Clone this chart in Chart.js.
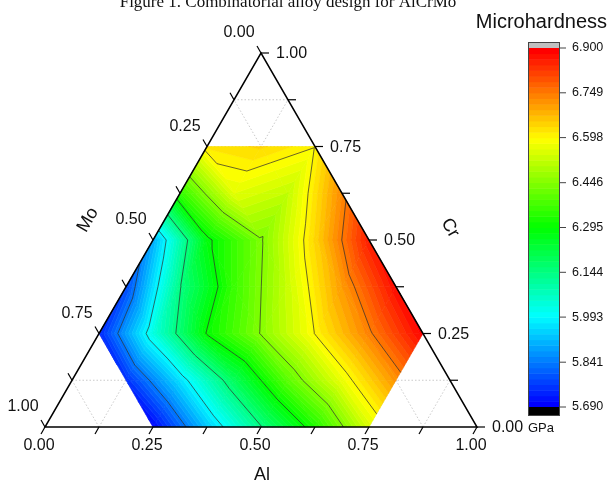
<!DOCTYPE html>
<html>
<head>
<meta charset="utf-8">
<script src="https://cdn.jsdelivr.net/npm/chart.js@4.4.1/dist/chart.umd.min.js"></script>
<style>
  html, body { margin: 0; padding: 0; background: #fff; }
</style>
</head>
<body>
<canvas id="chart" width="608" height="483"></canvas>
<script>
// sampled compositions (mole fraction)
const alFrac = [0, 0.125, 0.25, 0.375, 0.5, 0.625, 0.75]
const crFrac = [0, 0.125, 0.25, 0.375, 0.5, 0.625, 0.75]

// microhardness (GPa), one row per Cr fraction, indexed by Al fraction; null = not sampled
const hvCr000 = [null, null, 5.70, 5.93, 6.14, 6.33, 6.55]
const hvCr125 = [null, 5.75, 5.96, 6.19, 6.40, 6.57, 6.72]
const hvCr250 = [5.74, 6.03, 6.30, 6.45, 6.60, 6.74, 6.89]
const hvCr375 = [5.78, 6.14, 6.36, 6.53, 6.71, 6.88, null]
const hvCr500 = [5.90, 6.28, 6.44, 6.64, 6.86, null, null]
const hvCr625 = [6.35, 6.56, 6.52, 6.73, null, null, null]
const hvCr750 = [6.62, 6.64, 6.60, null, null, null, null]

const axisTicks = [0, 0.25, 0.5, 0.75, 1]
const axisTickLabels = ["0.00", "0.25", "0.50", "0.75", "1.00"]
const colorTicks = [5.690, 5.841, 5.993, 6.144, 6.295, 6.446, 6.598, 6.749, 6.900]
const contourLevels = [5.841, 5.993, 6.144, 6.295, 6.446, 6.598, 6.749]

const hvRows = [hvCr000, hvCr125, hvCr250, hvCr375, hvCr500, hvCr625, hvCr750]
const SQ3 = Math.sqrt(3) / 2
const NB = 64
const vMin = 5.69, vMax = 6.9

const nodes = []
const nodeIndex = {}
hvRows.forEach((row, j) => {
  row.forEach((v, i) => {
    if (v === null) return
    nodeIndex[i + "_" + j] = nodes.length
    nodes.push({ x: alFrac[i] + crFrac[j] / 2, y: crFrac[j] * SQ3, al: alFrac[i], cr: crFrac[j], v: v })
  })
})

const triangles = []
for (let j = 0; j < crFrac.length - 1; j++) {
  for (let i = 0; i < alFrac.length - 1; i++) {
    const a = nodeIndex[i + "_" + j], b = nodeIndex[(i + 1) + "_" + j]
    const c = nodeIndex[i + "_" + (j + 1)], d = nodeIndex[(i + 1) + "_" + (j + 1)]
    if (a !== undefined && b !== undefined && c !== undefined) triangles.push([a, b, c])
    if (b !== undefined && d !== undefined && c !== undefined) triangles.push([b, d, c])
  }
}

function rainbow(t) {
  const stops = [[0,0,255],[0,128,255],[0,255,255],[0,255,128],[0,255,0],[128,255,0],[255,255,0],[255,128,0],[255,0,0]]
  const s = Math.max(0, Math.min(1, t)) * (stops.length - 1)
  const i = Math.min(Math.floor(s), stops.length - 2)
  const f = s - i
  const c = stops[i].map((v, k) => Math.round(v + f * (stops[i + 1][k] - v)))
  return "rgb(" + c[0] + "," + c[1] + "," + c[2] + ")"
}

function clip(poly, lv, keepAbove) {
  const out = []
  for (let i = 0; i < poly.length; i++) {
    const cur = poly[i], prev = poly[(i + poly.length - 1) % poly.length]
    const inC = keepAbove ? cur.v >= lv : cur.v <= lv
    const inP = keepAbove ? prev.v >= lv : prev.v <= lv
    if (inC !== inP) {
      const t = (lv - prev.v) / (cur.v - prev.v)
      out.push({ x: prev.x + t * (cur.x - prev.x), y: prev.y + t * (cur.y - prev.y), v: lv })
    }
    if (inC) out.push(cur)
  }
  return out
}

const ternaryPlugin = {
  id: "ternary",
  beforeDraw(chart) {
    const ctx = chart.ctx
    ctx.save()
    ctx.fillStyle = "#fff"
    ctx.fillRect(0, 0, chart.width, chart.height)
    ctx.restore()
  },
  afterDatasetsDraw(chart) {
    const ctx = chart.ctx
    const X = chart.scales.x, Y = chart.scales.y
    const P = (al, cr) => ({ x: X.getPixelForValue(al + cr / 2), y: Y.getPixelForValue(cr * SQ3) })
    ctx.save()

    // dotted grid
    ctx.strokeStyle = "#bdbdbd"
    ctx.lineWidth = 0.8
    ctx.setLineDash([1.5, 2])
    for (let k = 1; k < 8; k++) {
      const t = k / 8
      const segs = [[P(0, t), P(1 - t, t)], [P(t, 0), P(t, 1 - t)], [P(1 - t, 0), P(0, 1 - t)]]
      segs.forEach(s => {
        ctx.beginPath(); ctx.moveTo(s[0].x, s[0].y); ctx.lineTo(s[1].x, s[1].y); ctx.stroke()
      })
    }
    ctx.setLineDash([])

    // filled contour bands
    const step = (vMax - vMin) / NB
    triangles.forEach(tri => {
      const poly = tri.map(n => { const p = P(nodes[n].al, nodes[n].cr); return { x: p.x, y: p.y, v: nodes[n].v } })
      for (let k = 0; k < NB; k++) {
        const lo = k === 0 ? -Infinity : vMin + k * step
        const hi = k === NB - 1 ? Infinity : vMin + (k + 1) * step
        let pp = poly
        if (lo > -Infinity) pp = clip(pp, lo, true)
        if (pp.length < 3) continue
        if (hi < Infinity) pp = clip(pp, hi, false)
        if (pp.length < 3) continue
        const col = rainbow(k / (NB - 1))
        ctx.fillStyle = col
        ctx.strokeStyle = col
        ctx.lineWidth = 0.6
        ctx.beginPath()
        pp.forEach((q, m) => m ? ctx.lineTo(q.x, q.y) : ctx.moveTo(q.x, q.y))
        ctx.closePath()
        ctx.fill()
        ctx.stroke()
      }
    })

    // contour lines
    ctx.strokeStyle = "#2a2a2a"
    ctx.lineWidth = 0.7
    contourLevels.forEach(lv => {
      triangles.forEach(tri => {
        const q = tri.map(n => { const p = P(nodes[n].al, nodes[n].cr); return { x: p.x, y: p.y, v: nodes[n].v - lv } })
        const pts = []
        for (let m = 0; m < 3; m++) {
          const a = q[m], b = q[(m + 1) % 3]
          if ((a.v < 0) !== (b.v < 0)) {
            const t = a.v / (a.v - b.v)
            pts.push({ x: a.x + t * (b.x - a.x), y: a.y + t * (b.y - a.y) })
          }
        }
        if (pts.length === 2) {
          ctx.beginPath(); ctx.moveTo(pts[0].x, pts[0].y); ctx.lineTo(pts[1].x, pts[1].y); ctx.stroke()
        }
      })
    })

    // triangle frame
    const A = P(1, 0), C = P(0, 1), M = P(0, 0)
    ctx.strokeStyle = "#000"
    ctx.lineWidth = 1.5
    ctx.beginPath(); ctx.moveTo(M.x, M.y); ctx.lineTo(A.x, A.y); ctx.lineTo(C.x, C.y); ctx.closePath(); ctx.stroke()

    // ticks
    ctx.lineWidth = 1.2
    const tl = 8
    for (let k = 0; k <= 8; k++) {
      const t = k / 8
      const b = P(t, 0)
      ctx.beginPath(); ctx.moveTo(b.x, b.y); ctx.lineTo(b.x - tl * 0.5, b.y + tl * SQ3); ctx.stroke()
      const r = P(1 - t, t)
      ctx.beginPath(); ctx.moveTo(r.x, r.y); ctx.lineTo(r.x + tl, r.y); ctx.stroke()
      const l = P(0, 1 - t)
      ctx.beginPath(); ctx.moveTo(l.x, l.y); ctx.lineTo(l.x - tl * 0.5, l.y - tl * SQ3); ctx.stroke()
    }

    // tick labels
    ctx.fillStyle = "#111"
    ctx.font = "16px 'Liberation Sans', Arial, sans-serif"
    ctx.textBaseline = "middle"
    axisTicks.forEach((t, k) => {
      const b = P(t, 0)
      ctx.textAlign = "center"
      ctx.fillText(axisTickLabels[k], b.x - 6, b.y + 19)
      const r = P(1 - t, t)
      ctx.textAlign = "left"
      ctx.fillText(axisTickLabels[k], r.x + 15, r.y + 1)
      const l = P(0, 1 - t)
      ctx.textAlign = "center"
      ctx.fillText(axisTickLabels[k], l.x - 22, l.y - 20)
    })

    // axis titles
    ctx.font = "18px 'Liberation Sans', Arial, sans-serif"
    ctx.textAlign = "center"
    ctx.fillText("Al", P(0.5, 0).x + 1, 475)
    ctx.save(); ctx.translate(88, 220); ctx.rotate(-Math.PI / 3); ctx.fillText("Mo", 0, 0); ctx.restore()
    ctx.save(); ctx.translate(450, 228); ctx.rotate(Math.PI / 3); ctx.fillText("Cr", 0, 0); ctx.restore()

    // colour bar
    const bx = 528, bw = 31, top = 48, bot = 407
    const bh = (bot - top) / NB
    for (let k = 0; k < NB; k++) {
      ctx.fillStyle = rainbow(k / (NB - 1))
      ctx.fillRect(bx, bot - (k + 1) * bh, bw, bh + 0.5)
    }
    ctx.fillStyle = "#c0c0c0"
    ctx.fillRect(bx, 42, bw, top - 42)
    ctx.fillStyle = "#000"
    ctx.fillRect(bx, bot, bw, 8)
    ctx.strokeStyle = "#444"
    ctx.lineWidth = 1
    ctx.strokeRect(bx + 0.5, 42.5, bw, bot + 8 - 42)
    ctx.font = "12.5px 'Liberation Sans', Arial, sans-serif"
    ctx.textAlign = "left"
    colorTicks.forEach(v => {
      const y = bot - (v - vMin) / (vMax - vMin) * (bot - top)
      ctx.beginPath(); ctx.moveTo(bx + bw, y); ctx.lineTo(bx + bw + 7, y); ctx.stroke()
      ctx.fillStyle = "#111"
      ctx.fillText(v.toFixed(3), 572, y)
    })
    ctx.font = "13px 'Liberation Sans', Arial, sans-serif"
    ctx.fillText("GPa", 528, 428)
    ctx.font = "20px 'Liberation Sans', Arial, sans-serif"
    ctx.textAlign = "right"
    ctx.textBaseline = "alphabetic"
    ctx.fillText("Microhardness", 607, 28)

    // figure caption (cut at the top edge)
    ctx.font = "17px 'Liberation Serif', 'Times New Roman', serif"
    ctx.textAlign = "center"
    ctx.fillText("Figure 1. Combinatorial alloy design for AlCrMo", 288, 7)
    ctx.restore()
  }
}

new Chart(document.getElementById("chart"), {
  type: "scatter",
  data: { datasets: [{ data: nodes, pointRadius: 0, pointHoverRadius: 0 }] },
  options: {
    responsive: false,
    animation: false,
    layout: { padding: { left: 45, right: 131, top: 53, bottom: 56 } },
    scales: {
      x: { type: "linear", min: 0, max: 1, display: false },
      y: { type: "linear", min: 0, max: SQ3, display: false }
    },
    plugins: { legend: { display: false }, tooltip: { enabled: false } }
  },
  plugins: [ternaryPlugin]
})
</script>
</body>
</html>
